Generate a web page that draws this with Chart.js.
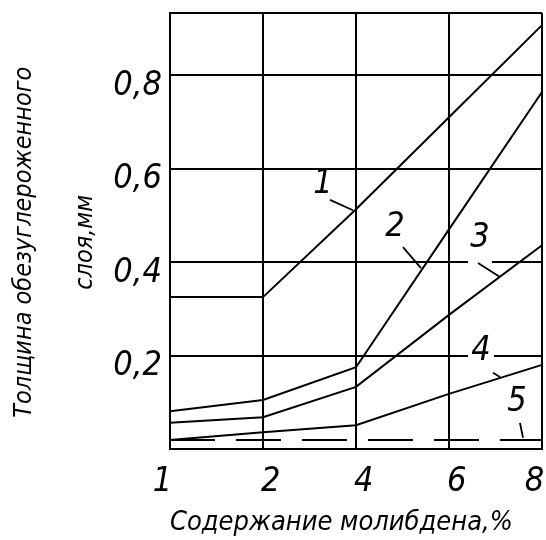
<!DOCTYPE html>
<html><head><meta charset="utf-8">
<script src="https://cdn.jsdelivr.net/npm/chart.js@4.4.0/dist/chart.umd.min.js"></script>
<style>html,body{margin:0;padding:0;background:#fff;}</style>
</head><body>
<canvas id="c" width="546" height="540"></canvas>
<script>
// ---- data ----
const categories = ['1', '2', '4', '6', '8'];
const curve1 = [0.325, 0.325, 0.513, 0.710, 0.907];
const curve2 = [0.081, 0.105, 0.175, 0.470, 0.764];
const curve3 = [0.056, 0.068, 0.133, 0.287, 0.436];
const curve4 = [0.019, 0.036, 0.051, 0.118, 0.180];
const curve5 = [0.019, 0.019, 0.019, 0.019, 0.019];
const yTickValues = [0.2, 0.4, 0.6, 0.8];
const curveNames = ['1', '2', '3', '4', '5'];
const xTitle = 'Содержание молибдена,%';
const yTitle = ['Толщина обезуглероженного', 'слоя,мм'];

const FONT = "'DejaVu Sans Condensed','DejaVu Sans',sans-serif";

// label placement in data coordinates (category index, value)
const labelPlaces = [
  {at: [1.645, 0.567], lead: [[1.72, 0.533], [1.968, 0.511]], bg: null},
  {at: [2.419, 0.475], lead: [[2.505, 0.432], [2.699, 0.387]], bg: null},
  {at: [3.333, 0.451], lead: [[3.312, 0.398], [3.548, 0.368]], bg: [12, 16, 12, 26]},
  {at: [3.344, 0.210], lead: [[3.473, 0.163], [3.548, 0.154]], bg: [13, 16, 13, 16]},
  {at: [3.731, 0.101], lead: [[3.763, 0.056], [3.796, 0.024]], bg: null}
];

const labelPlugin = {
  id: 'curveLabels',
  afterDatasetsDraw(chart) {
    const {ctx, scales: {x, y}} = chart;
    ctx.save();
    ctx.font = 'italic 34px ' + FONT;
    ctx.textAlign = 'center';
    ctx.textBaseline = 'middle';
    labelPlaces.forEach((p, i) => {
      const px = x.getPixelForValue(p.at[0]);
      const py = y.getPixelForValue(p.at[1]);
      if (p.bg) {
        ctx.fillStyle = '#fff';
        ctx.fillRect(px - p.bg[0], py - p.bg[1], p.bg[0] + p.bg[2], p.bg[1] + p.bg[3]);
      }
      ctx.fillStyle = '#000';
      ctx.fillText(curveNames[i], px, py);
      ctx.strokeStyle = '#000';
      ctx.lineWidth = 1.8;
      ctx.beginPath();
      ctx.moveTo(x.getPixelForValue(p.lead[0][0]), y.getPixelForValue(p.lead[0][1]));
      ctx.lineTo(x.getPixelForValue(p.lead[1][0]), y.getPixelForValue(p.lead[1][1]));
      ctx.stroke();
    });
    ctx.restore();
  }
};

function ds(data, dash) {
  return {data, borderColor: '#000', borderWidth: 2, pointRadius: 0, tension: 0,
          fill: false, borderDash: dash || [], clip: false};
}

// hand-lettered tick labels sit slightly off their grid lines
const xPad = {'1': ['', '\u2002'], '2': ['\u2002', ''], '4': ['\u2002', ''], '6': ['\u2002', ''], '8': ['', '\u2002']};

new Chart(document.getElementById('c'), {
  type: 'line',
  data: {
    labels: categories,
    datasets: [ds(curve1), ds(curve2), ds(curve3), ds(curve4), ds(curve5, [45, 21])]
  },
  plugins: [labelPlugin],
  options: {
    responsive: false,
    animation: false,
    devicePixelRatio: 1,
    layout: {padding: {top: 13, right: 4, left: 0, bottom: 0}},
    plugins: {legend: {display: false}, tooltip: {enabled: false}},
    scales: {
      x: {
        type: 'category',
        offset: false,
        grid: {color: '#000', lineWidth: 2, drawTicks: false},
        border: {color: '#000', width: 2},
        ticks: {color: '#000', font: {family: FONT, size: 34, style: 'italic'},
                padding: 13, maxRotation: 0, autoSkip: false,
                callback(v) { const l = categories[v]; const p = xPad[l]; return p[0] + l + p[1]; }},
        title: {display: true, text: xTitle, color: '#000', align: 'start',
                font: {family: FONT, size: 27, style: 'italic', lineHeight: 1.2},
                padding: {top: 0, bottom: 1}},
        afterFit(s) { s.height = 91; s.paddingLeft = 0; s.paddingRight = 0; }
      },
      y: {
        type: 'linear',
        min: 0, max: 0.933,
        grid: {color: '#000', lineWidth: 2, drawTicks: false},
        border: {color: '#000', width: 2},
        ticks: {
          stepSize: 0.2, padding: 8, labelOffset: 11, color: '#000',
          font: {family: FONT, size: 34, style: 'italic'},
          callback: v => yTickValues.some(t => Math.abs(t - v) < 1e-6) ? v.toFixed(1).replace('.', ',') : ''
        },
        title: {display: true, text: [yTitle[0] + '\u2002\u2002', yTitle[1] + '\u2002\u2002'], color: '#000',
                font: {family: FONT, size: 25, style: 'italic', lineHeight: 61 / 25},
                padding: {top: -6, bottom: 0}},
        afterFit(s) { s.width = 170; s.paddingTop = 0; s.paddingBottom = 0; }
      }
    }
  }
});
</script>
</body></html>
